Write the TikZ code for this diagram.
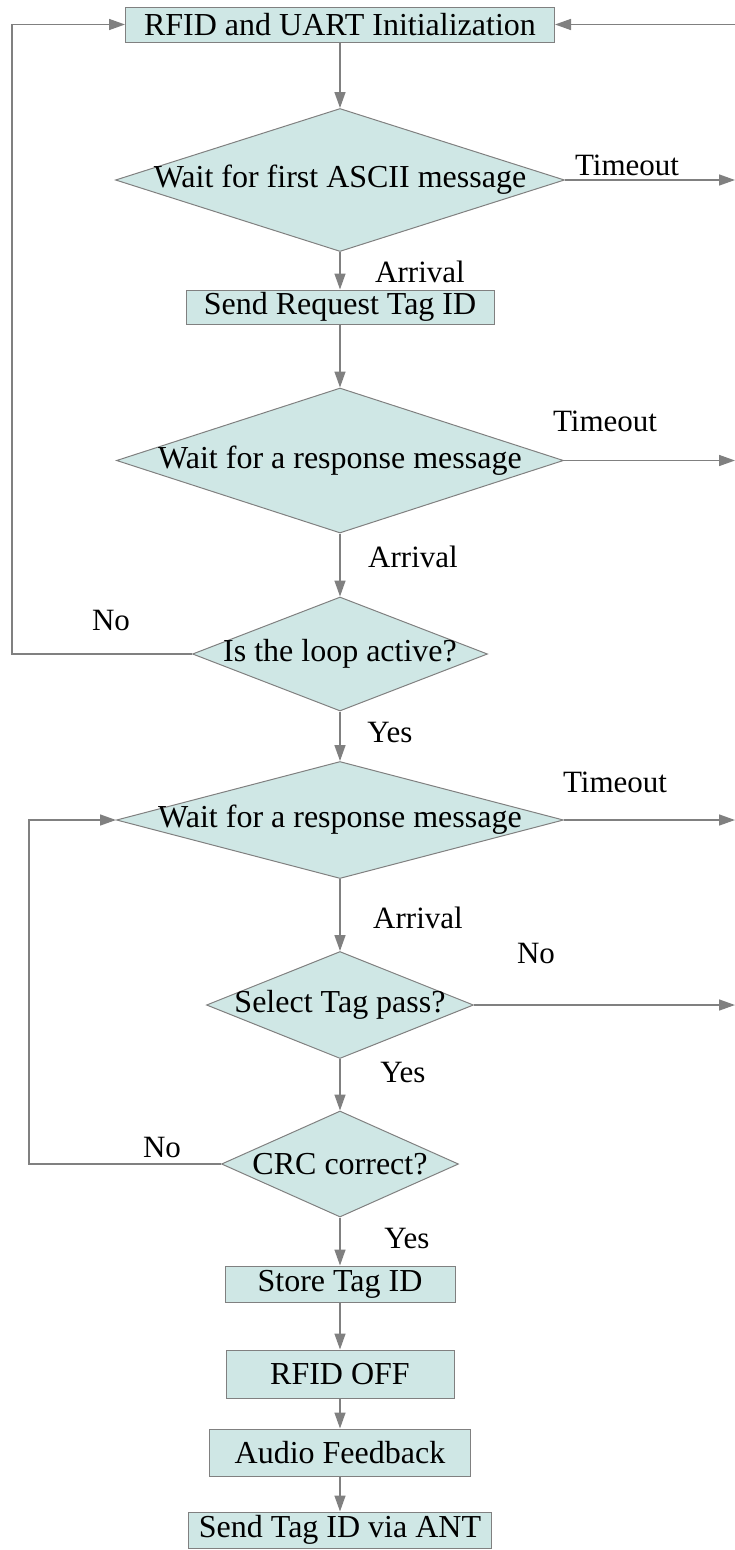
\documentclass[tikz,border=0pt]{standalone}
\usepackage{fontspec}
\setmainfont{Liberation Serif}
\usetikzlibrary{shapes.geometric,arrows.meta}
\definecolor{fillc}{RGB}{207,231,229}
\definecolor{linec}{RGB}{128,128,128}
\tikzset{
  procbox/.style={draw=linec, line width=1pt, fill=fillc, rectangle, inner sep=0pt, font=\fontsize{32}{36}\selectfont},
  decbox/.style={draw=linec, line width=1pt, fill=fillc, diamond, inner sep=0pt, label={[font=\fontsize{32}{36}\selectfont]center:#1}},
  arr/.style={draw=linec, line width=1.5pt, -{Triangle[length=16pt,width=11pt]}},
  lbl/.style={font=\fontsize{31}{35}\selectfont, inner sep=0pt}
}
\begin{document}
\begin{tikzpicture}[x=1pt,y=-1pt]
\useasboundingbox (0,0) rectangle (735,1550);
\node[procbox, minimum width=429pt, minimum height=35pt] (b1) at (340,24.5) {RFID and UART Initialization};
\node[decbox={Wait for first ASCII message}, minimum width=449pt, minimum height=143pt] (d1) at (340,180) {};
\node[procbox, minimum width=308pt, minimum height=34pt] (b2) at (340,307) {Send Request Tag ID};
\node[decbox={Wait for a response message}, minimum width=447pt, minimum height=145pt] (d2) at (340,460.5) {};
\node[decbox={Is the loop active?}, minimum width=295pt, minimum height=114pt] (d3) at (340,654) {};
\node[decbox={Wait for a response message}, minimum width=447pt, minimum height=117pt] (d4) at (340,820) {};
\node[decbox={Select Tag pass?}, minimum width=267pt, minimum height=107pt] (d5) at (340,1005) {};
\node[decbox={CRC correct?}, minimum width=237pt, minimum height=106pt] (d6) at (340,1164) {};
\node[procbox, minimum width=230pt, minimum height=36pt] (s1) at (340,1284) {Store Tag ID};
\node[procbox, minimum width=228pt, minimum height=48pt] (s2) at (340,1374) {RFID OFF};
\node[procbox, minimum width=261pt, minimum height=47pt] (s3) at (340,1452.5) {Audio Feedback};
\node[procbox, minimum width=303pt, minimum height=36pt] (s4) at (340,1530) {Send Tag ID via ANT};

\coordinate (r0) at (735,24.5);
\coordinate (r1) at (735,180);
\coordinate (r2) at (735,460.5);
\coordinate (r4) at (735,820);
\coordinate (r5) at (735,1005);
\coordinate (l1) at (12,300);
\coordinate (l2) at (29,1000);

\draw[arr] (b1) -- (d1);
\draw[arr] (d1) -- (b2);
\draw[arr] (b2) -- (d2);
\draw[arr] (d2) -- (d3);
\draw[arr] (d3) -- (d4);
\draw[arr] (d4) -- (d5);
\draw[arr] (d5) -- (d6);
\draw[arr] (d6) -- (s1);
\draw[arr] (s1) -- (s2);
\draw[arr] (s2) -- (s3);
\draw[arr] (s3) -- (s4);

\draw[arr] (r0) -- (b1);
\draw[arr] (d1.east) -- (r1);
\draw[arr] (d2.east) -- (r2);
\draw[arr] (d4.east) -- (r4);
\draw[arr] (d5.east) -- (r5);
\draw[arr] (d3.west) -| (l1) |- (b1.west);
\draw[arr] (d6.west) -| (l2) |- (d4.west);

\node[lbl] (t1) at (627,165) {Timeout};
\node[lbl] (a1) at (420,272) {Arrival};
\node[lbl] (t2) at (605,421) {Timeout};
\node[lbl] (a2) at (413,557) {Arrival};
\node[lbl] (n1) at (111,620) {No};
\node[lbl] (y1) at (390,732) {Yes};
\node[lbl] (t4) at (615,782) {Timeout};
\node[lbl] (a4) at (418,918) {Arrival};
\node[lbl] (n5) at (536,953) {No};
\node[lbl] (y5) at (403,1072) {Yes};
\node[lbl] (n6) at (162,1147) {No};
\node[lbl] (y6) at (407,1238) {Yes};
\end{tikzpicture}
\end{document}
